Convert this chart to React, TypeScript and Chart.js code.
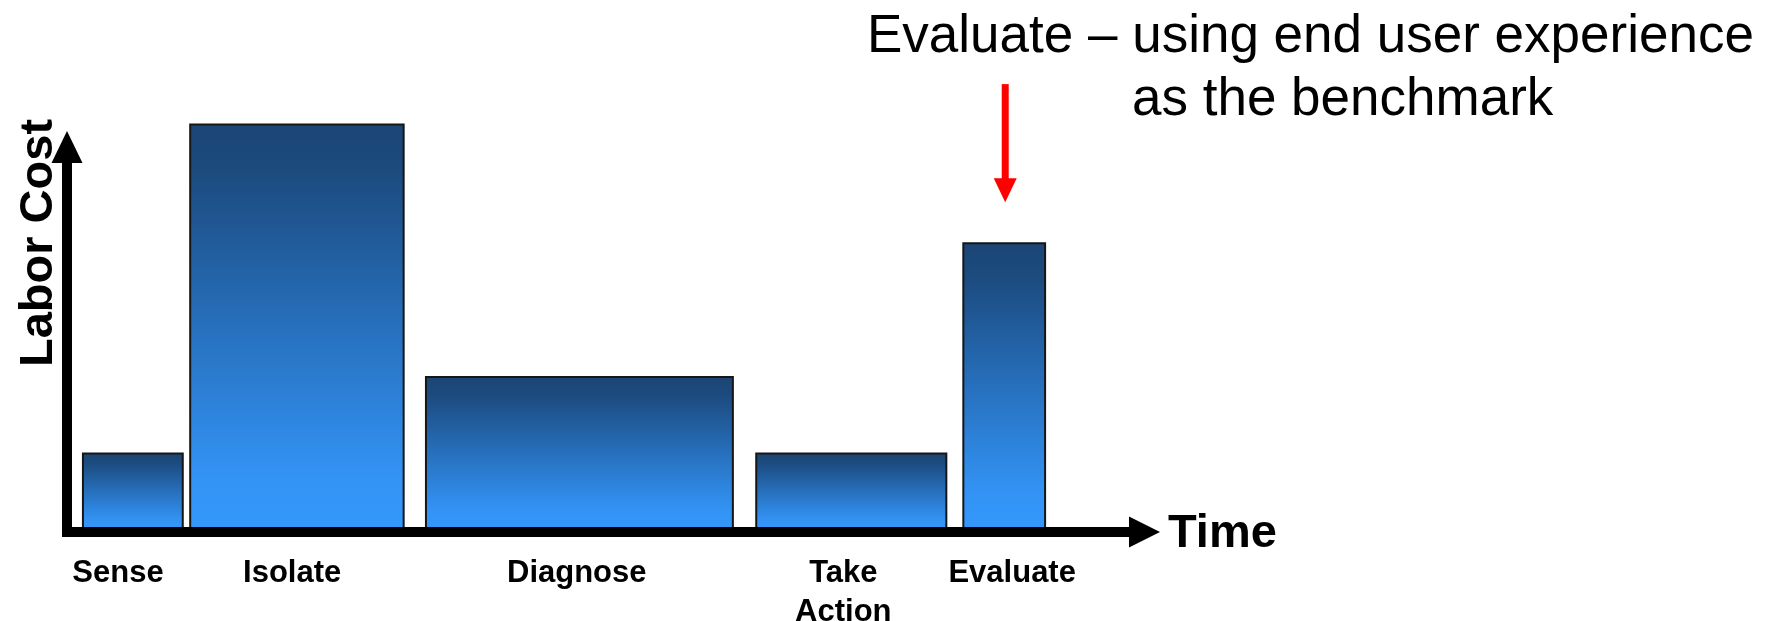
import React, { useEffect, useRef } from 'react';
import { Chart, registerables } from 'chart.js';

Chart.register(...registerables);

// Phases of the troubleshooting cycle, laid out along a time axis (0..100)
const phases = ['Sense', 'Isolate', 'Diagnose', 'Take Action', 'Evaluate'];
const tickLabels: (string | string[])[] = ['Sense', 'Isolate', 'Diagnose', ['Take', 'Action'], 'Evaluate'];
const tickPositions = [4.8, 21.2, 48.0, 73.1, 89.0];
const phaseStart = [1.5, 11.6, 33.8, 64.9, 84.4];
const phaseEnd = [10.9, 31.7, 62.7, 82.8, 92.1];
const laborCost = [1.0, 5.3, 2.0, 1.0, 3.75];

const calloutLines = ['Evaluate \u2013 using end user experience', 'as the benchmark'];
const yAxisTitle = 'Labor Cost';
const xAxisTitle = 'Time';

const FONT = "'Liberation Sans', Arial, Helvetica, sans-serif";

function barGradient(chart: any, value: number) {
  const y = chart.scales && chart.scales.y;
  if (!chart.chartArea || !y) return '#2a7fd4';
  const top = y.getPixelForValue(value);
  const bottom = y.getPixelForValue(0);
  if (!isFinite(top) || !isFinite(bottom)) return '#2a7fd4';
  const g = chart.ctx.createLinearGradient(0, top, 0, bottom);
  g.addColorStop(0, '#1b4676');
  g.addColorStop(0.12, '#1c4b7f');
  g.addColorStop(0.5, '#2770bd');
  g.addColorStop(0.88, '#3394f6');
  g.addColorStop(1, '#3497fa');
  return g;
}

// Thick arrowed axes, axis titles and the red callout above the last phase
const decorations = {
  id: 'decorations',
  afterDatasetsDraw(chart: any) {
    const { ctx, chartArea, scales } = chart;
    const xs = scales.x;
    const ys = scales.y;
    const axisX = chartArea.left;
    const axisY = ys.getPixelForValue(0) + 2;
    const shaft = 10;

    ctx.save();
    ctx.fillStyle = '#000';

    // vertical axis
    const yTip = chartArea.top + 60;
    const yHeadBase = yTip + 32;
    ctx.fillRect(axisX - shaft / 2, yHeadBase - 1, shaft, axisY + shaft / 2 - yHeadBase + 1);
    ctx.beginPath();
    ctx.moveTo(axisX, yTip);
    ctx.lineTo(axisX - 15.5, yHeadBase);
    ctx.lineTo(axisX + 15.5, yHeadBase);
    ctx.closePath();
    ctx.fill();

    // horizontal axis
    const xHeadBase = chartArea.right;
    const xTip = xHeadBase + 31;
    ctx.fillRect(axisX - shaft / 2, axisY - shaft / 2, xHeadBase - axisX + shaft / 2 + 1, shaft);
    ctx.beginPath();
    ctx.moveTo(xTip, axisY);
    ctx.lineTo(xHeadBase, axisY - 15.5);
    ctx.lineTo(xHeadBase, axisY + 15.5);
    ctx.closePath();
    ctx.fill();

    // axis titles
    ctx.font = `bold 47px ${FONT}`;
    ctx.textBaseline = 'alphabetic';
    ctx.textAlign = 'left';
    ctx.fillText(xAxisTitle, xTip + 8, axisY + 15);

    ctx.save();
    ctx.translate(axisX - 15, chartArea.top + 172);
    ctx.rotate(-Math.PI / 2);
    ctx.textAlign = 'center';
    ctx.fillText(yAxisTitle, 0, 0);
    ctx.restore();

    // red arrow pointing at the Evaluate phase
    const last = phases.length - 1;
    const ax = xs.getPixelForValue((phaseStart[last] + phaseEnd[last]) / 2) + 1;
    const aTip = ys.getPixelForValue(laborCost[last]) - 41;
    const aHead = aTip - 24;
    const aTail = aTip - 118;
    ctx.fillStyle = '#ff0000';
    ctx.fillRect(ax - 3.5, aTail, 7, aHead - aTail + 1);
    ctx.beginPath();
    ctx.moveTo(ax, aTip);
    ctx.lineTo(ax - 11.5, aHead);
    ctx.lineTo(ax + 11.5, aHead);
    ctx.closePath();
    ctx.fill();

    // callout text
    ctx.fillStyle = '#000';
    ctx.font = `53px ${FONT}`;
    ctx.textAlign = 'left';
    ctx.fillText(calloutLines[0], 867, 52);
    ctx.fillText(calloutLines[1], 1132, 115);
    ctx.restore();
  },
};

export default function App() {
  const canvasRef = useRef<HTMLCanvasElement | null>(null);

  useEffect(() => {
    const canvas = canvasRef.current;
    if (!canvas) return;

    const datasets = phases.map((name, i) => ({
      label: name,
      data: [
        { x: phaseStart[i], y: 0 },
        { x: phaseStart[i], y: laborCost[i] },
        { x: phaseEnd[i], y: laborCost[i] },
        { x: phaseEnd[i], y: 0 },
      ],
      borderColor: '#161616',
      borderWidth: 2,
      borderJoinStyle: 'miter' as const,
      fill: 'origin',
      backgroundColor: (c: any) => barGradient(c.chart, laborCost[i]),
      pointRadius: 0,
      pointHoverRadius: 0,
      tension: 0,
    }));

    const chart = new Chart(canvas, {
      type: 'line',
      data: { datasets },
      plugins: [decorations],
      options: {
        animation: false,
        responsive: true,
        maintainAspectRatio: false,
        devicePixelRatio: 1,
        events: [],
        layout: { padding: { left: 67, right: 646, top: 71, bottom: 0 } },
        plugins: {
          legend: { display: false },
          tooltip: { enabled: false },
          title: { display: false },
        },
        scales: {
          x: {
            type: 'linear',
            min: 0,
            max: 100,
            border: { display: false },
            grid: { display: false, drawTicks: false },
            afterBuildTicks: (scale: any) => {
              scale.ticks = tickPositions.map((v) => ({ value: v }));
            },
            afterFit: (scale: any) => {
              scale.height = 91;
            },
            ticks: {
              autoSkip: false,
              maxRotation: 0,
              minRotation: 0,
              crossAlign: 'near',
              padding: 24,
              color: '#000',
              font: { family: FONT, weight: 'bold', size: 31, lineHeight: 1.26 },
              callback: (_v: any, index: number) => tickLabels[index],
            },
          },
          y: {
            type: 'linear',
            display: false,
            min: 0,
            max: 6,
          },
        },
      } as any,
    });

    return () => chart.destroy();
  }, []);

  return (
    <div style={{ position: 'absolute', left: 0, top: 0, width: 1775, height: 621, background: '#fff' }}>
      <canvas ref={canvasRef} />
    </div>
  );
}
